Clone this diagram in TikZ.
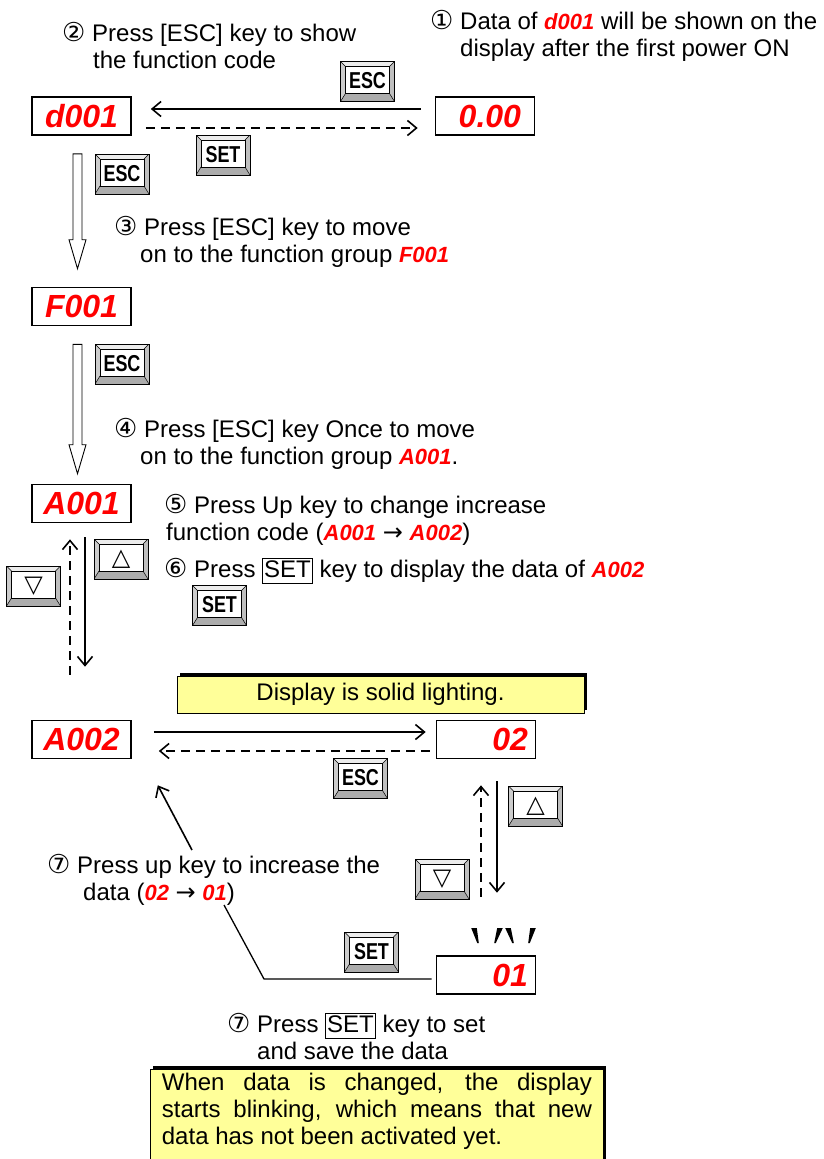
\documentclass[tikz,border=0pt]{standalone}
\usepackage{fontspec}
\usepackage{graphicx}
\setmainfont{Liberation Sans}
\newfontfamily\symfont{DejaVu Sans}
\usetikzlibrary{arrows.meta,calc,shadows}

\definecolor{segred}{RGB}{255,0,0}
\definecolor{notepaper}{RGB}{255,255,153}

% red seven-segment style codes inside the text
\newcommand\seg[1]{{\color{segred}\bfseries\itshape\fontsize{22}{27}\selectfont #1}}
\newcommand\circnum[1]{{\symfont\fontsize{26}{27}\selectfont #1}}
\newcommand\boxkey[1]{{\setlength\fboxsep{1pt}\setlength\fboxrule{1pt}\fbox{\vphantom{y}#1}}}
\newcommand\keylabel[1]{\raisebox{1.5pt}{\bfseries\fontsize{23}{23}\selectfont\scalebox{0.78}[1]{#1}}}
\newcommand\keytri[1]{\raisebox{1.5pt}{\symfont\fontsize{24}{24}\selectfont #1}}

% hollow arrow between two displays: from, to, gap above the target
\newcommand\hollowdown[3]{%
  \draw[hollow] let \p1=(#1.south), \p2=(#2.north) in
    (\x1-8.5pt,\y1-18pt) -- (\x1-8.5pt,\y2+#3+29pt) -- (\x1-12.5pt,\y2+#3+29pt)
    -- (\x1-4pt,\y2+#3) -- (\x1+4.5pt,\y2+#3+29pt) -- (\x1+0.5pt,\y2+#3+29pt)
    -- (\x1+0.5pt,\y1-18pt) -- cycle;}

\tikzset{
  keycap/.style={draw=black, line width=0.8pt, fill=gray!40, minimum width=54pt,
    minimum height=40pt, inner sep=0pt,
    path picture={
      \fill[gray!15] (path picture bounding box.north west) -- (path picture bounding box.north east)
        -- ([shift={(-5pt,-5pt)}]path picture bounding box.north east)
        -- ([shift={(5pt,-5pt)}]path picture bounding box.north west) -- cycle;
      \fill[gray!65] (path picture bounding box.south west) -- (path picture bounding box.south east)
        -- ([shift={(-5pt,8pt)}]path picture bounding box.south east)
        -- ([shift={(5pt,8pt)}]path picture bounding box.south west) -- cycle;
      \fill[gray!50] (path picture bounding box.south east) -- (path picture bounding box.north east)
        -- ([shift={(-5pt,-5pt)}]path picture bounding box.north east)
        -- ([shift={(-5pt,8pt)}]path picture bounding box.south east) -- cycle;
      \draw[line width=0.5pt] (path picture bounding box.north west) -- ++(5pt,-5pt)
        (path picture bounding box.north east) -- ++(-5pt,-5pt)
        (path picture bounding box.south west) -- ++(5pt,8pt)
        (path picture bounding box.south east) -- ++(-5pt,8pt);
      \filldraw[fill=white, line width=0.8pt] ([shift={(5pt,-5pt)}]path picture bounding box.north west)
        rectangle ([shift={(-5pt,8pt)}]path picture bounding box.south east);
    }},
  disp/.style={draw=black, line width=1.6pt, fill=white, minimum width=99pt, minimum height=38pt,
    inner sep=0pt, text=segred, font=\bfseries\itshape\fontsize{32}{32}\selectfont},
  note/.style={draw=black, line width=0.8pt, fill=notepaper,
    drop shadow={shadow xshift=3pt, shadow yshift=3pt, opacity=1, fill=black}},
  hint/.style={anchor=base west, align=left, inner sep=0pt},
  hollow/.style={draw=black, fill=white, line width=0.9pt},
}

\begin{document}
\begin{tikzpicture}[x=1pt, y=-1pt, font=\fontsize{24}{27}\selectfont,
  flow/.style={line width=1.6pt, -{Straight Barb[length=9pt,width=15pt]}},
  back/.style={flow, dash pattern=on 9pt off 6pt}]
\useasboundingbox (0,0) rectangle (824,1159);

% displays
\node[disp] (d001) at (81.5,116) {d001};
\node[disp, text width=72pt, align=right] (val0) at (485,116) {0.00};
\node[disp] (F001) at (81.5,306.5) {F001};
\node[disp] (A001) at (81.5,503.5) {A001};
\node[disp] (A002) at (81.5,739.5) {A002};
\node[disp, text width=84pt, align=right] (val02) at (486,739.5) {02};
\node[disp, text width=84pt, align=right] (val01) at (486,975) {01};

% keys
\node[keycap] (escTop) at (367.5,81.5) {\keylabel{ESC}};
\node[keycap] (setTop) at (223,155) {\keylabel{SET}};
\node[keycap] (escA) at (122,174) {\keylabel{ESC}};
\node[keycap] (escB) at (122,364) {\keylabel{ESC}};
\node[keycap] (upA) at (121,559) {\keytri{△}};
\node[keycap] (downA) at (33.5,586) {\keytri{▽}};
\node[keycap] (setA) at (219.5,605.5) {\keylabel{SET}};
\node[keycap] (escC) at (360.5,778.5) {\keylabel{ESC}};
\node[keycap] (upB) at (535.5,806) {\keytri{△}};
\node[keycap] (downB) at (442,879) {\keytri{▽}};
\node[keycap] (setB) at (371.5,952) {\keylabel{SET}};

% notes
\node[note, minimum width=407pt, minimum height=37pt, inner sep=0pt] (solid) at (380.5,694.5)
  {Display is solid lighting.};
\node[note, anchor=north west, text width=430pt, align=justify, inner xsep=11.5pt,
  inner ysep=4pt, text depth=130pt] (blink) at (150,1069)
  {\noindent When data is changed, the display\linebreak starts blinking, which means that new\linebreak data has not been activated yet.};

% step texts (placed at the baseline of their last line)
\node[hint] (stepOne) at (430,56) {\circnum{①} Data of \seg{d001} will be shown on the\\\hspace*{30pt}display after the first power ON};
\node[hint] (stepTwo) at (62,68) {\circnum{②} Press [ESC] key to show\\\hspace*{31pt}the function code};
\node[hint] (stepThree) at (114,262) {\circnum{③} Press [ESC] key to move\\\hspace*{26pt}on to the function group \seg{F001}};
\node[hint] (stepFour) at (114,464) {\circnum{④} Press [ESC] key Once to move\\\hspace*{26pt}on to the function group \seg{A001}.};
\node[hint] (stepFive) at (164,540) {\circnum{⑤} Press Up key to change increase\\\hspace*{2pt}function code (\seg{A001} {\symfont→} \seg{A002})};
\node[hint] (stepSix) at (164,577) {\circnum{⑥} Press \boxkey{SET} key to display the data of \seg{A002}};
\node[hint] (stepSevenA) at (47,900) {\circnum{⑦} Press up key to increase the\\\hspace*{36pt}data (\seg{02} {\symfont→} \seg{01})};
\node[hint] (stepSevenB) at (227,1059) {\circnum{⑦} Press \boxkey{SET} key to set\\\hspace*{30pt}and save the data};

% hollow arrows down the function groups
\hollowdown{d001}{F001}{18pt}
\hollowdown{F001}{A001}{10pt}

% horizontal moves
\draw[flow] ([shift={(-14pt,7pt)}]val0.west) -- ([shift={(19pt,7pt)}]d001.east);
\draw[back] ([shift={(14pt,-12pt)}]d001.east) -- ([shift={(-17pt,-12pt)}]val0.west);
\draw[flow] ([shift={(22pt,7.5pt)}]A002.east) -- ([shift={(-10pt,7.5pt)}]val02.west);
\draw[back] ([shift={(-6pt,-11.5pt)}]val02.west) -- ([shift={(27pt,-11.5pt)}]A002.east);

% up and down
\draw[back] ([shift={(-11.5pt,45pt)}]A002.north) -- ([shift={(-11.5pt,-16pt)}]A001.south);
\draw[flow] ([shift={(3.5pt,-14pt)}]A001.south) -- ([shift={(3.5pt,53pt)}]A002.north);
\draw[back] ([shift={(-5pt,58.5pt)}]val01.north) -- ([shift={(-5pt,-26pt)}]val02.south);
\draw[flow] ([shift={(11pt,-22pt)}]val02.south) -- ([shift={(11pt,62.5pt)}]val01.north);

% SET returns to A002
\coordinate (kneeSet) at (264,979);
\coordinate (endSet) at (224,905);
\coordinate (startUp) at (192,850);
\draw[line width=1.3pt] ([shift={(-4pt,-4pt)}]val01.west) -- (kneeSet) -- (endSet);
\draw[flow] (startUp) -- ([shift={(26pt,-26pt)}]A002.south east);

% blinking marks
\foreach \tx/\bx in {474/478, 500/495, 508/513, 533/529}
  \fill (\tx-2.8,928) -- (\tx+2.8,928) -- (\bx+0.8,943) -- (\bx-0.8,943) -- cycle;
\end{tikzpicture}
\end{document}
